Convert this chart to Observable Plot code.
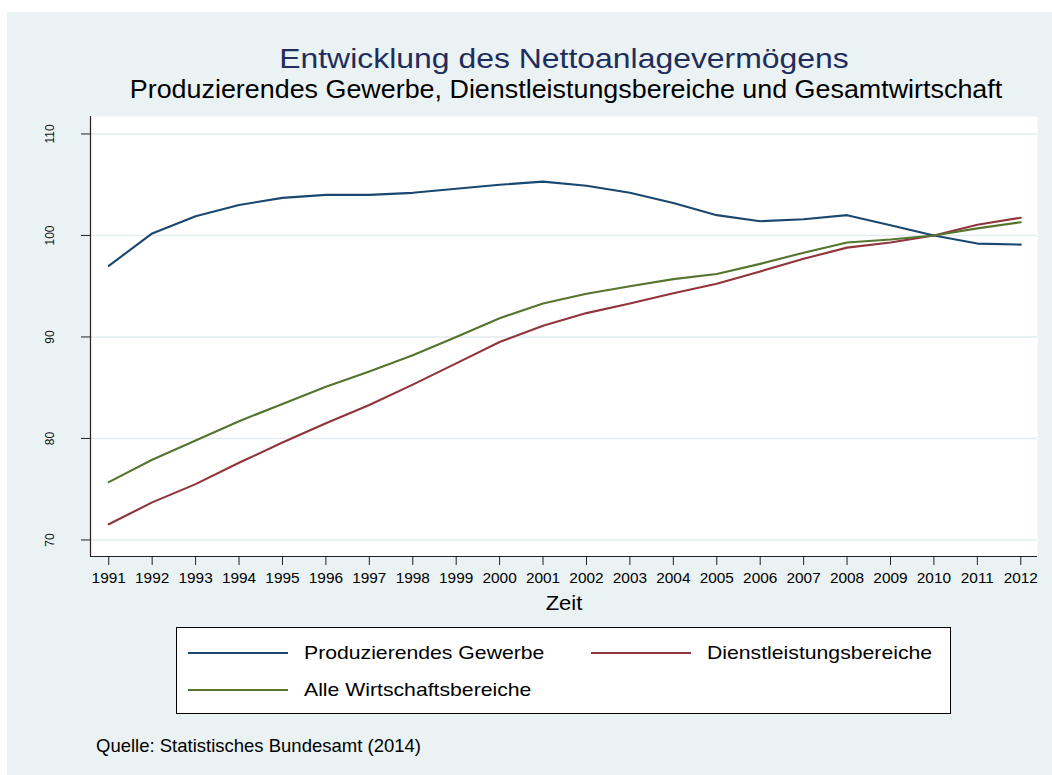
<!DOCTYPE html>
<html>
<head>
<meta charset="utf-8">
<script src="https://cdn.jsdelivr.net/npm/d3@7"></script>
<script src="https://cdn.jsdelivr.net/npm/@observablehq/plot@0.6"></script>
<style>
  html, body { margin: 0; padding: 0; background: #ffffff; }
  body { width: 1052px; height: 775px; position: relative; overflow: hidden;
         font-family: "Liberation Sans", Arial, Helvetica, sans-serif; }
  #bg { position: absolute; left: 7px; top: 12px; width: 1045px; height: 763px; background: #eaf2f3; }
  .t { position: absolute; white-space: nowrap; line-height: 1; }
  .c { transform-origin: center center; }
  .l { transform-origin: left center; }
  #chart { position: absolute; left: 0; top: 110px; }
  #legend { position: absolute; left: 176px; top: 627px; width: 773px; height: 85px;
            border: 1px solid #000; background: #fff; }
  .sw { position: absolute; height: 2px; width: 100px; }
</style>
</head>
<body>
<div id="bg"></div>
<div id="title" class="t c"></div>
<div id="subtitle" class="t c"></div>
<div id="chart"></div>
<div id="legend"></div>
<div id="caption" class="t l"></div>
<script>
// ---------- data ----------
const years = [1991, 1992, 1993, 1994, 1995, 1996, 1997, 1998, 1999, 2000, 2001,
               2002, 2003, 2004, 2005, 2006, 2007, 2008, 2009, 2010, 2011, 2012];
const produzierendesGewerbe = [97.0, 100.2, 101.9, 103.0, 103.7, 104.0, 104.0, 104.2, 104.6, 105.0, 105.3,
                               104.9, 104.2, 103.2, 102.0, 101.4, 101.6, 102.0, 101.0, 100.0, 99.2, 99.1];
const dienstleistungsbereiche = [71.55, 73.7, 75.5, 77.6, 79.6, 81.5, 83.3, 85.3, 87.4, 89.5, 91.1,
                                 92.35, 93.3, 94.3, 95.25, 96.45, 97.7, 98.8, 99.3, 100.0, 101.05, 101.75];
const alleWirtschaftsbereiche = [75.7, 77.9, 79.8, 81.7, 83.4, 85.1, 86.6, 88.2, 90.0, 91.85, 93.3,
                                 94.25, 95.0, 95.7, 96.2, 97.2, 98.3, 99.3, 99.6, 100.0, 100.7, 101.3];
const seriesNames = ["Produzierendes Gewerbe", "Dienstleistungsbereiche", "Alle Wirtschaftsbereiche"];
const seriesColors = ["#1a476f", "#90353b", "#55752f"];
const yTicks = [70, 80, 90, 100, 110];
const xDomain = [1990.58, 2012.385];
const yDomain = [68.37, 111.72];

const titleText = "Entwicklung des Nettoanlagevermögens";
const subtitleText = "Produzierendes Gewerbe, Dienstleistungsbereiche und Gesamtwirtschaft";
const xLabel = "Zeit";
const captionText = "Quelle: Statistisches Bundesamt (2014)";

// ---------- table ----------
const seriesValues = [produzierendesGewerbe, dienstleistungsbereiche, alleWirtschaftsbereiche];
const rows = [];
seriesNames.forEach((name, i) => {
  years.forEach((yr, j) => rows.push({series: name, year: yr, value: seriesValues[i][j]}));
});

// ---------- HTML text ----------
function placeText(el, text, {fs, baseline, x, scale = 1, color = "#000", anchor = "center"}) {
  el.textContent = text;
  el.style.fontSize = fs + "px";
  el.style.color = color;
  el.style.top = (baseline - 0.8465 * fs) + "px";
  el.style.left = x + "px";
  el.style.transform = anchor === "center"
    ? `translateX(-50%) scaleX(${scale})`
    : `scaleX(${scale})`;
}
placeText(document.getElementById("title"), titleText, {fs: 28, baseline: 68.3, x: 564, scale: 1.14, color: "#1f2d5c"});
placeText(document.getElementById("subtitle"), subtitleText, {fs: 25.5, baseline: 98.3, x: 566, scale: 1.054});
placeText(document.getElementById("caption"), captionText, {fs: 18.5, baseline: 752.5, x: 96, scale: 1.0, anchor: "left"});

// ---------- chart ----------
const plot = Plot.plot({
  width: 1052,
  height: 510,
  marginLeft: 90,
  marginRight: 15,
  marginTop: 6,
  marginBottom: 64,
  style: {background: "transparent", fontFamily: "'Liberation Sans', Arial, sans-serif", color: "#000", overflow: "visible"},
  x: {type: "linear", domain: xDomain},
  y: {type: "linear", domain: yDomain},
  color: {domain: seriesNames, range: seriesColors},
  marks: [
    Plot.frame({fill: "white", stroke: "none"}),
    Plot.ruleY(yTicks, {stroke: "#e2ebee", strokeWidth: 1.6}),
    Plot.line(rows, {x: "year", y: "value", z: "series", stroke: "series", strokeWidth: 2.1}),
    Plot.ruleX([xDomain[0]], {stroke: "#222", strokeWidth: 1.2}),
    Plot.ruleY([yDomain[0]], {stroke: "#222", strokeWidth: 1.2}),
    Plot.axisX({ticks: years, tickSize: 9, tickPadding: 8, fontSize: 14, label: null,
                tickFormat: d => String(d), stroke: "#222"}),
    Plot.axisY({ticks: yTicks, tickSize: 9, tickFormat: () => "", label: null, stroke: "#222"}),
    Plot.text(yTicks, {y: d => d, frameAnchor: "left", dx: -40.5, rotate: -90, text: d => String(d),
                       fontSize: 12, fill: "#111", lineAnchor: "middle", textAnchor: "middle"}),
    Plot.text([xLabel], {frameAnchor: "bottom", dy: 47, lineAnchor: "middle", text: d => d, fontSize: 20, fill: "#000"})
  ]
});
document.getElementById("chart").appendChild(plot);

// widen horizontal text slightly to match the reference's font proportions
d3.select(plot).selectAll("g[aria-label='x-axis tick label'] text").each(function() {
  const t = this.getAttribute("transform") || "";
  this.setAttribute("transform", t + " scale(1.1,1)");
});
d3.select(plot).selectAll("text").filter(function() { return this.textContent === xLabel; }).each(function() {
  const t = this.getAttribute("transform") || "";
  this.setAttribute("transform", t + " scale(1.1,1)");
});

// ---------- legend ----------
const legend = document.getElementById("legend");
const legendPos = [
  {sx: 11, ty: 24.5},   // relative to inner box (border excluded)
  {sx: 414, ty: 24.5},
  {sx: 11, ty: 61.5}
];
seriesNames.forEach((name, i) => {
  const p = legendPos[i];
  const sw = document.createElement("div");
  sw.className = "sw";
  sw.style.left = p.sx + "px";
  sw.style.top = (p.ty - 1) + "px";
  sw.style.background = seriesColors[i];
  legend.appendChild(sw);
  const tx = document.createElement("div");
  tx.className = "t l";
  legend.appendChild(tx);
  const fs = 18.6;
  tx.textContent = name;
  tx.style.fontSize = fs + "px";
  tx.style.left = (p.sx + 116) + "px";
  tx.style.top = (p.ty + 7.3 - 0.8465 * fs) + "px";
  tx.style.transform = "scaleX(1.14)";
});
</script>
</body>
</html>
